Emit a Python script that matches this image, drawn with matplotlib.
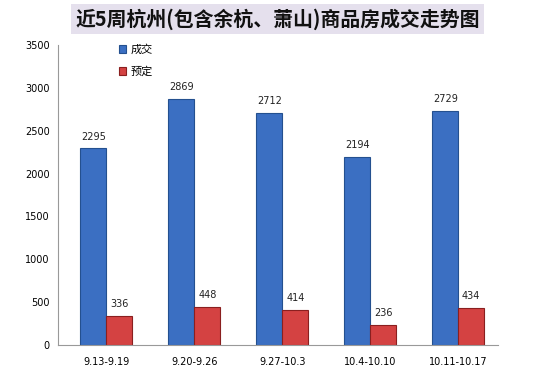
import matplotlib
matplotlib.use("Agg")
import matplotlib.pyplot as plt
import numpy as np

plt.rcParams['font.family'] = ['Noto Sans CJK SC', 'DejaVu Sans']

categories = ["9.13-9.19", "9.20-9.26", "9.27-10.3", "10.4-10.10", "10.11-10.17"]
deal = [2295, 2869, 2712, 2194, 2729]
reserve = [336, 448, 414, 236, 434]
yticks = [0, 500, 1000, 1500, 2000, 2500, 3000, 3500]
title = "近5周杭州(包含余杭、萧山)商品房成交走势图"

num_font = dict(family=["DejaVu Sans"], fontsize=7)

fig = plt.figure(figsize=(5.55, 3.7), dpi=100)
ax = fig.add_axes([0.1045, 0.0676, 0.7925, 0.8104])

x = np.arange(len(categories))
w = 0.295
b1 = ax.bar(x - w / 2, deal, w, color="#3b6fc2", edgecolor="#24508f", linewidth=0.8, label="成交")
b2 = ax.bar(x + w / 2, reserve, w, color="#d44242", edgecolor="#8a1f1f", linewidth=0.8, label="预定")

for r, v in zip(b1, deal):
    ax.text(r.get_x() + r.get_width() / 2, v + 80, str(v), ha="center", va="bottom", color="#222222", **num_font)
for r, v in zip(b2, reserve):
    ax.text(r.get_x() + r.get_width() / 2, v + 80, str(v), ha="center", va="bottom", color="#222222", **num_font)

ax.set_xlim(-0.55, 4.45)
ax.set_ylim(0, 3500)
ax.set_yticks(yticks)
ax.set_yticklabels([str(t) for t in yticks], **num_font)
ax.set_xticks(x)
ax.set_xticklabels(categories, **num_font)
ax.tick_params(axis="y", length=0, pad=6)
ax.tick_params(axis="x", length=0, pad=9)
for s in ["top", "right"]:
    ax.spines[s].set_visible(False)
ax.spines["left"].set_color("#999999")
ax.spines["bottom"].set_color("#999999")

ax.legend(loc="upper left", bbox_to_anchor=(0.115, 1.035), frameon=False, fontsize=8,
          handlelength=0.7, handleheight=0.7, labelspacing=1.0, handletextpad=0.4)

fig.text(0.5, 0.948, title, ha="center", va="center", fontsize=14.3, fontweight="bold",
         color="#111111",
         bbox=dict(boxstyle="square,pad=0.2", facecolor="#e5e0ed", edgecolor="none"))

fig.savefig("out.png", dpi=100)
